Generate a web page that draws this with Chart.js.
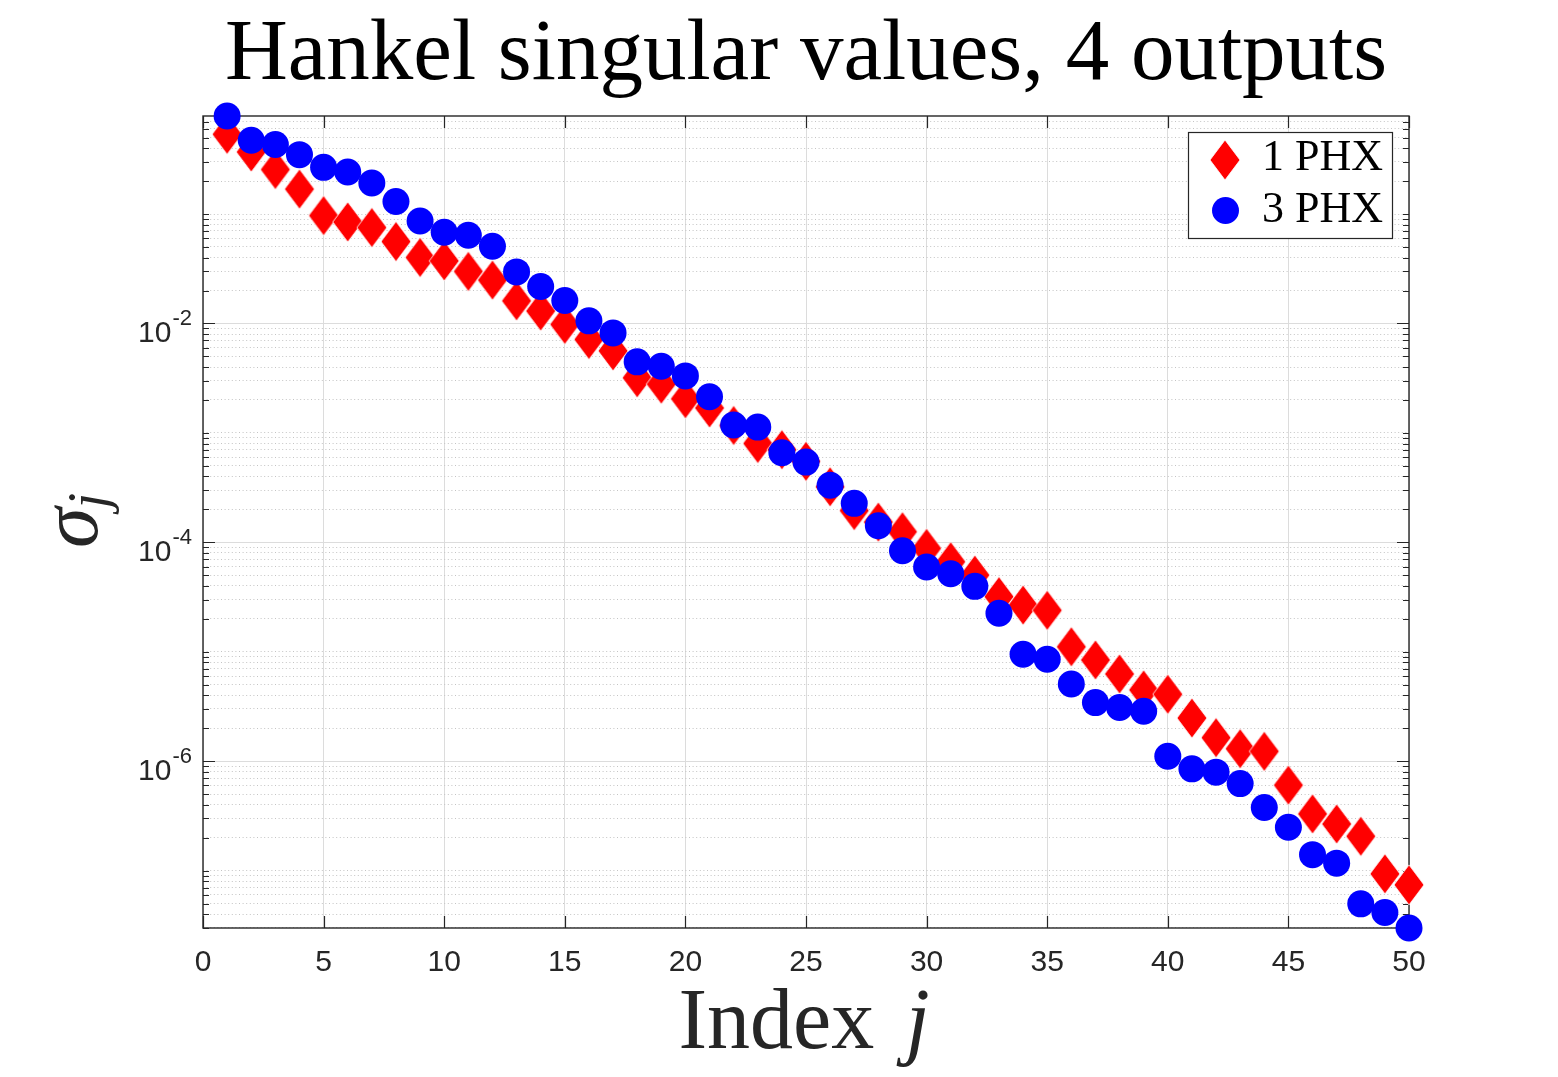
<!DOCTYPE html>
<html>
<head>
<meta charset="utf-8">
<script src="https://cdn.jsdelivr.net/npm/chart.js@4.4.1/dist/chart.umd.min.js"></script>
<style>
  html, body { margin: 0; padding: 0; background: #fff; }
  canvas { display: block; }
</style>
</head>
<body>
<canvas id="hsvChart" width="1558" height="1077"></canvas>
<script>
// Hankel singular values (index j = 1..50)
var indices = [1, 2, 3, 4, 5, 6, 7, 8, 9, 10, 11, 12, 13, 14, 15, 16, 17, 18, 19, 20,
               21, 22, 23, 24, 25, 26, 27, 28, 29, 30, 31, 32, 33, 34, 35, 36, 37, 38, 39, 40,
               41, 42, 43, 44, 45, 46, 47, 48, 49, 50];

var phx1 = [0.536, 0.369, 0.255, 0.169, 0.0968, 0.0847, 0.0753, 0.0561, 0.0401, 0.0373,
            0.0299, 0.0249, 0.0161, 0.0130, 0.0098, 0.00714, 0.00562, 0.00319, 0.00279, 0.00205,
            0.00169, 0.00117, 0.000801, 0.000702, 0.000550, 0.000322, 0.000195, 0.000153, 0.000125, 8.81e-5,
            6.65e-5, 5.02e-5, 3.19e-5, 2.67e-5, 2.39e-5, 1.11e-5, 8.41e-6, 6.27e-6, 4.48e-6, 4.09e-6,
            2.48e-6, 1.64e-6, 1.30e-6, 1.23e-6, 6.04e-7, 3.30e-7, 2.67e-7, 2.06e-7, 9.35e-8, 7.41e-8];

var phx3 = [0.787, 0.472, 0.432, 0.349, 0.267, 0.242, 0.192, 0.130, 0.0865, 0.0682,
            0.064, 0.0508, 0.0296, 0.0218, 0.0162, 0.01057, 0.0082, 0.00446, 0.00407, 0.00332,
            0.00214, 0.00118, 0.00113, 0.000658, 0.000541, 0.000332, 0.000227, 0.000142, 8.38e-5, 5.95e-5,
            5.17e-5, 3.96e-5, 2.25e-5, 9.49e-6, 8.55e-6, 5.08e-6, 3.43e-6, 3.09e-6, 2.86e-6, 1.11e-6,
            8.51e-7, 7.94e-7, 6.24e-7, 3.77e-7, 2.49e-7, 1.40e-7, 1.17e-7, 4.97e-8, 4.14e-8, 2.99e-8];

var xTicks = [0, 5, 10, 15, 20, 25, 30, 35, 40, 45, 50];
var yLabelExps = [-2, -4, -6];   // decades that carry a label

var seriesNames = ['1 PHX', '3 PHX'];

// tight y limits like MATLAB's axis tight
var allVals = phx1.concat(phx3);
var yMin = Math.min.apply(null, allVals);
var yMax = Math.max.apply(null, allVals);

function toPoints(vals) {
    return indices.map(function (j, i) { return { x: j, y: vals[i] }; });
}

// tall red diamond marker (MATLAB 'd')
var diamond = document.createElement('canvas');
diamond.width = 32;
diamond.height = 42;
(function () {
    var d = diamond.getContext('2d');
    d.beginPath();
    d.moveTo(16, 1);
    d.lineTo(31, 21);
    d.lineTo(16, 41);
    d.lineTo(1, 21);
    d.closePath();
    d.fillStyle = '#ff0000';
    d.fill();
    d.strokeStyle = 'rgba(255,255,255,0.8)';
    d.lineWidth = 1;
    d.stroke();
})();

var axisColor = '#262626';

// box, inside tick marks (drawn under the markers)
var boxPlugin = {
    id: 'boxTicks',
    beforeDatasetsDraw: function (chart) {
        var ctx = chart.ctx, ca = chart.chartArea;
        var xs = chart.scales.x, ys = chart.scales.y;
        ctx.save();
        ctx.strokeStyle = axisColor;
        ctx.lineWidth = 1.2;
        ctx.beginPath();
        xTicks.forEach(function (v) {
            var px = Math.round(xs.getPixelForValue(v)) + 0.5;
            ctx.moveTo(px, ca.bottom); ctx.lineTo(px, ca.bottom - 12);
            ctx.moveTo(px, ca.top); ctx.lineTo(px, ca.top + 12);
        });
        ys.ticks.forEach(function (t) {
            var py = Math.round(ys.getPixelForValue(t.value)) + 0.5;
            var len = t.lab ? 12 : 6;
            ctx.moveTo(ca.left, py); ctx.lineTo(ca.left + len, py);
            ctx.moveTo(ca.right, py); ctx.lineTo(ca.right - len, py);
        });
        ctx.stroke();
        ctx.lineWidth = 1.4;
        ctx.strokeRect(ca.left, ca.top, ca.right - ca.left, ca.bottom - ca.top);
        ctx.restore();
    }
};

// title, axis labels, tick labels and legend
var textPlugin = {
    id: 'texts',
    afterDraw: function (chart) {
        var ctx = chart.ctx, ca = chart.chartArea;
        var xs = chart.scales.x, ys = chart.scales.y;
        var cx = (ca.left + ca.right) / 2;
        ctx.save();

        // title
        ctx.fillStyle = '#000';
        ctx.font = '87px "Liberation Serif"';
        ctx.textAlign = 'center';
        ctx.textBaseline = 'alphabetic';
        ctx.fillText('Hankel singular values, 4 outputs', cx, 79);

        // x tick labels
        ctx.fillStyle = axisColor;
        ctx.font = '30px "Liberation Sans"';
        xTicks.forEach(function (v) {
            ctx.fillText(String(v), xs.getPixelForValue(v), 971);
        });

        // y tick labels 10^e
        ctx.textAlign = 'left';
        ys.ticks.forEach(function (t) {
            if (!t.lab) return;
            var py = ys.getPixelForValue(t.value);
            var e = Math.round(Math.log10(t.value));
            var expStr = String(e);
            ctx.font = '22px "Liberation Sans"';
            var ew = ctx.measureText(expStr).width;
            ctx.fillText(expStr, 192 - ew, py + 2);
            ctx.font = '30px "Liberation Sans"';
            var bw = ctx.measureText('10').width;
            ctx.fillText('10', 192 - ew - 1 - bw, py + 18.5);
        });

        // x axis label: Index j
        ctx.font = '86px "Liberation Serif"';
        var w1 = ctx.measureText('Index ').width;
        ctx.font = 'italic 86px "Liberation Serif"';
        var w2 = ctx.measureText('j').width;
        var x0 = cx - (w1 + w2 + 10) / 2 - 2;
        ctx.font = '86px "Liberation Serif"';
        ctx.fillText('Index', x0, 1048);
        ctx.font = 'italic 86px "Liberation Serif"';
        ctx.fillText('j', x0 + w1 + 10, 1048);

        // y axis label: sigma_j
        ctx.save();
        ctx.translate(97, 548);
        ctx.rotate(-Math.PI / 2);
        ctx.font = 'italic 82px "Liberation Serif"';
        var ws = ctx.measureText('\u03C3').width;
        ctx.fillText('\u03C3', 0, 0);
        ctx.font = 'italic 56px "Liberation Serif"';
        ctx.fillText('j', ws - 1, 10);
        ctx.restore();

        // legend
        ctx.fillStyle = '#fff';
        ctx.fillRect(1188, 132, 204, 106);
        ctx.strokeStyle = axisColor;
        ctx.lineWidth = 1.2;
        ctx.strokeRect(1188.5, 132.5, 204, 106);
        ctx.drawImage(diamond, 1225 - 16, 160 - 21);
        ctx.fillStyle = '#0000ff';
        ctx.beginPath();
        ctx.arc(1225.5, 210.5, 13.5, 0, Math.PI * 2);
        ctx.fill();
        ctx.fillStyle = '#000';
        ctx.font = '44px "Liberation Serif"';
        ctx.fillText(seriesNames[0], 1262, 170);
        ctx.fillText(seriesNames[1], 1262, 222);

        ctx.restore();
    }
};

var ctx = document.getElementById('hsvChart').getContext('2d');

var hsvChart = new Chart(ctx, {
    type: 'scatter',
    data: {
        datasets: [{
            label: seriesNames[0],
            data: toPoints(phx1),
            pointStyle: diamond,
            pointRadius: 16,
            order: 2
        }, {
            label: seriesNames[1],
            data: toPoints(phx3),
            pointStyle: 'circle',
            pointRadius: 13.5,
            pointBackgroundColor: '#0000ff',
            pointBorderWidth: 0,
            order: 1
        }]
    },
    options: {
        responsive: false,
        animation: false,
        events: [],
        clip: false,
        layout: { padding: { left: 0, top: 116, right: 149, bottom: 0 } },
        plugins: {
            legend: { display: false },
            tooltip: { enabled: false },
            title: { display: false }
        },
        scales: {
            x: {
                type: 'linear',
                min: 0,
                max: 50,
                afterBuildTicks: function (scale) {
                    scale.ticks = xTicks.map(function (v) { return { value: v }; });
                },
                afterFit: function (scale) { scale.height = 149; },
                ticks: { display: false },
                grid: { color: '#dcdcdc', lineWidth: 1, drawTicks: false },
                border: { display: false }
            },
            y: {
                type: 'logarithmic',
                min: yMin,
                max: yMax,
                afterBuildTicks: function (scale) {
                    var ticks = [];
                    for (var e = -9; e <= 0; e++) {
                        for (var m = 1; m <= 9; m++) {
                            var v = m * Math.pow(10, e);
                            if (v >= yMin && v <= yMax) {
                                ticks.push({ value: v, lab: m === 1 && yLabelExps.indexOf(e) >= 0 });
                            }
                        }
                    }
                    scale.ticks = ticks;
                },
                afterFit: function (scale) { scale.width = 203; },
                ticks: { display: false },
                grid: {
                    color: function (c) { return c.tick && c.tick.lab ? '#dcdcdc' : '#c4c4c4'; },
                    lineWidth: 1,
                    drawTicks: false
                },
                border: {
                    display: false,
                    dash: function (c) { return c.tick && c.tick.lab ? [] : [1, 2.6]; }
                }
            }
        }
    },
    plugins: [boxPlugin, textPlugin]
});
</script>
</body>
</html>
